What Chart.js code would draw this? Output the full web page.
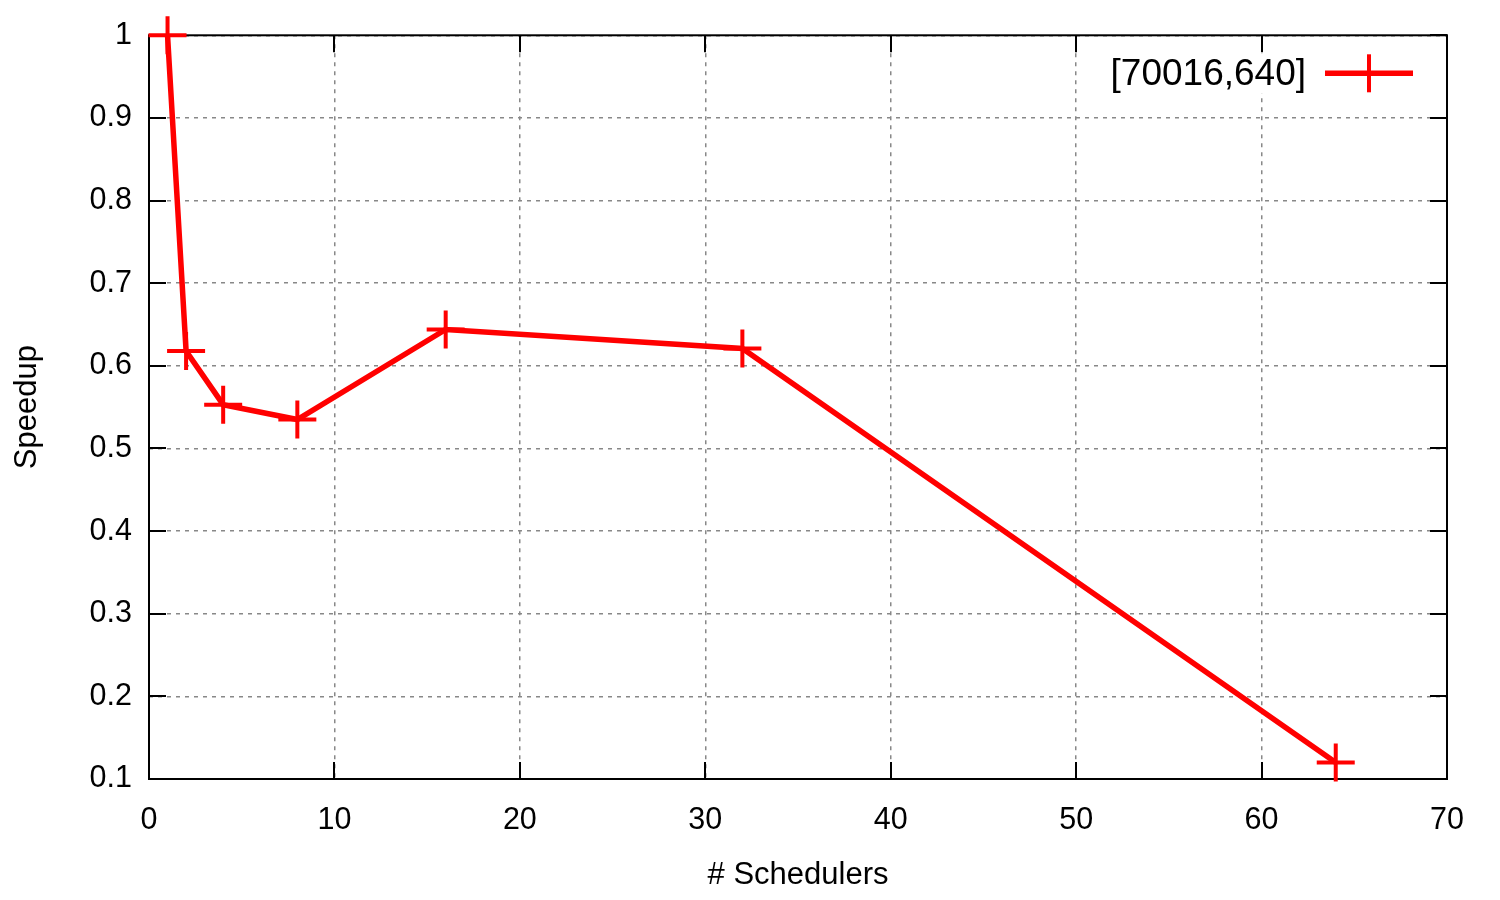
<!DOCTYPE html>
<html>
<head>
<meta charset="utf-8">
<title>Speedup vs # Schedulers</title>
<script src="https://cdn.jsdelivr.net/npm/chart.js@4.4.1/dist/chart.umd.min.js"></script>
<style>
    html, body { margin: 0; padding: 0; background: #fff; }
    canvas { display: block; }
</style>
</head>
<body>
<canvas id="speedupChart" width="1500" height="900"></canvas>
<script>
// values
const schedulers = [1, 2, 4, 8, 16, 32, 64];
const speedup = [1.0, 0.618, 0.553, 0.535, 0.644, 0.621, 0.12];
const seriesLabel = '[70016,640]';

const xTicks = [0, 10, 20, 30, 40, 50, 60, 70];
const yTicks = [0.1, 0.2, 0.3, 0.4, 0.5, 0.6, 0.7, 0.8, 0.9, 1];
const yTickLabels = ['0.1', '0.2', '0.3', '0.4', '0.5', '0.6', '0.7', '0.8', '0.9', '1'];

const FONT = 'Liberation Sans, Arial, sans-serif';
const RED = '#ff0000';
const TICK = 17;

// gnuplot look: solid frame with inward ticks on all four sides + boxed key
const gnuplotFrame = {
    id: 'gnuplotFrame',
    beforeDatasetsDraw(chart) {
        const { ctx, chartArea: a, scales: { x, y } } = chart;
        ctx.save();
        ctx.setLineDash([]);
        ctx.strokeStyle = '#000';
        ctx.lineWidth = 2;
        ctx.beginPath();
        x.ticks.forEach(t => {
            const px = Math.round(x.getPixelForValue(t.value));
            ctx.moveTo(px, a.bottom); ctx.lineTo(px, a.bottom - TICK);
            ctx.moveTo(px, a.top); ctx.lineTo(px, a.top + TICK);
        });
        y.ticks.forEach(t => {
            const py = Math.round(y.getPixelForValue(t.value));
            ctx.moveTo(a.left, py); ctx.lineTo(a.left + TICK, py);
            ctx.moveTo(a.right, py); ctx.lineTo(a.right - TICK, py);
        });
        ctx.stroke();
        ctx.strokeRect(a.left, a.top, a.right - a.left, a.bottom - a.top);
        ctx.restore();
    },
    afterDatasetsDraw(chart) {
        const { ctx, chartArea: a } = chart;
        const ds = chart.data.datasets[0];
        const cy = a.top + 38;
        const sampleEnd = a.right - 34;
        const sampleStart = sampleEnd - 88;
        const mid = (sampleStart + sampleEnd) / 2;

        ctx.save();
        ctx.fillStyle = '#fff';
        ctx.fillRect(a.left + 950, a.top + 18, a.right - a.left - 980, 40);

        ctx.font = '37px ' + FONT;
        ctx.fillStyle = '#000';
        ctx.textAlign = 'right';
        ctx.textBaseline = 'middle';
        ctx.fillText(ds.label, sampleStart - 19, cy + 1);

        ctx.strokeStyle = ds.borderColor;
        ctx.lineWidth = ds.borderWidth;
        ctx.beginPath();
        ctx.moveTo(sampleStart, cy); ctx.lineTo(sampleEnd, cy);
        ctx.stroke();
        ctx.lineWidth = ds.pointBorderWidth;
        ctx.beginPath();
        ctx.moveTo(mid, cy - ds.pointRadius); ctx.lineTo(mid, cy + ds.pointRadius);
        ctx.stroke();
        ctx.restore();
    }
};

const ctx = document.getElementById('speedupChart').getContext('2d');
const speedupChart = new Chart(ctx, {
    type: 'scatter',
    data: {
        datasets: [{
            label: seriesLabel,
            data: schedulers.map((s, i) => ({ x: s, y: speedup[i] })),
            showLine: true,
            borderColor: RED,
            backgroundColor: RED,
            borderWidth: 5.5,
            pointStyle: 'cross',
            pointRadius: 19,
            pointHoverRadius: 19,
            pointBorderWidth: 4,
            pointBorderColor: RED,
            clip: false
        }]
    },
    options: {
        responsive: false,
        animation: false,
        layout: { padding: { top: 34, right: 53, left: 0, bottom: 0 } },
        plugins: {
            legend: { display: false },
            tooltip: { enabled: false }
        },
        scales: {
            x: {
                type: 'linear',
                min: 0,
                max: 70,
                afterFit: s => { s.height = 121; },
                afterBuildTicks: s => { s.ticks = xTicks.map(v => ({ value: v })); },
                grid: { color: '#888', lineWidth: 1.5, drawTicks: false },
                border: { display: false, dash: [4, 5] },
                ticks: {
                    padding: 23,
                    color: '#000',
                    font: { family: FONT, size: 30.5 },
                    maxRotation: 0
                },
                title: {
                    display: true,
                    text: '# Schedulers',
                    color: '#000',
                    font: { family: FONT, size: 31 },
                    padding: { top: 0, bottom: 6 }
                }
            },
            y: {
                type: 'linear',
                min: 0.1,
                max: 1,
                afterFit: s => { s.width = 149; },
                afterBuildTicks: s => { s.ticks = yTicks.map(v => ({ value: v })); },
                grid: { color: '#888', lineWidth: 1.5, drawTicks: false },
                border: { display: false, dash: [4, 5] },
                ticks: {
                    padding: 17,
                    color: '#000',
                    font: { family: FONT, size: 30.5 },
                    callback: (v) => yTickLabels[yTicks.findIndex(t => Math.abs(t - v) < 1e-9)]
                },
                title: {
                    display: true,
                    text: 'Speedup',
                    color: '#000',
                    font: { family: FONT, size: 31 },
                    padding: { top: 9, bottom: 0 }
                }
            }
        }
    },
    plugins: [gnuplotFrame]
});
</script>
</body>
</html>
